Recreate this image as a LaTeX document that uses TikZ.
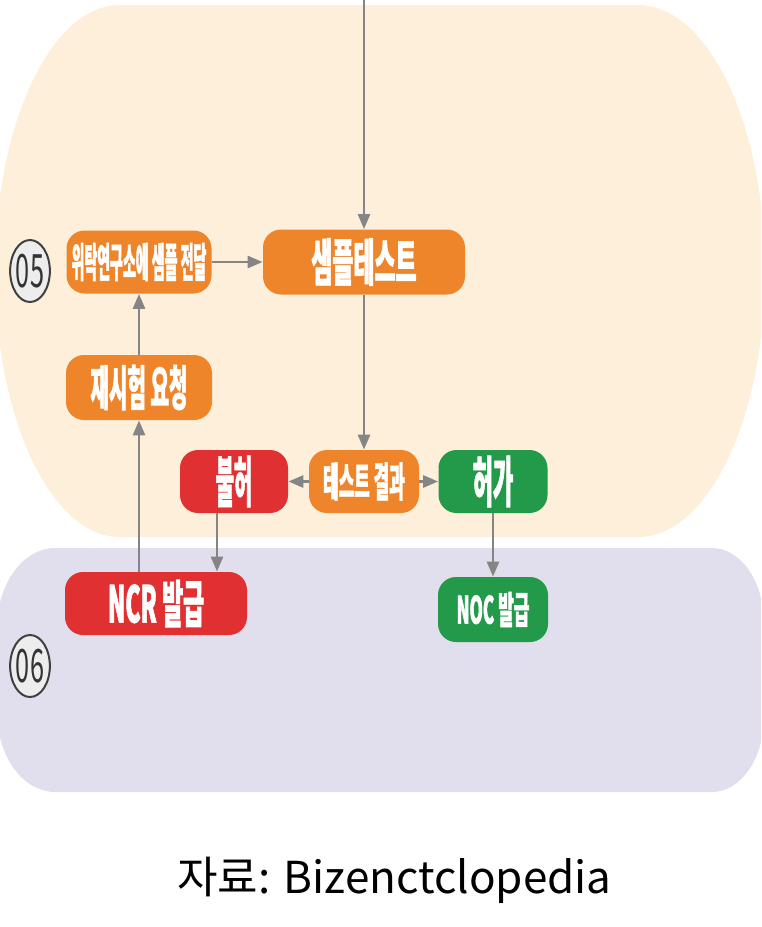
\documentclass[tikz,border=0pt]{standalone}
\usepackage{graphicx}
\usepackage{fontspec}
\setmainfont{Noto Sans CJK KR}
\newfontfamily\boxfont[FakeStretch=0.45,BoldFeatures={FakeBold=1.2}]{Noto Sans CJK KR}
\newfontfamily\numfont[FakeStretch=0.55]{Noto Sans CJK KR}
\usetikzlibrary{arrows.meta,shapes.geometric}

\definecolor{peach}{HTML}{FDEFD9}
\definecolor{lavender}{HTML}{E1DFEE}
\definecolor{boxorange}{HTML}{EE852A}
\definecolor{boxred}{HTML}{E03032}
\definecolor{boxgreen}{HTML}{229A4A}
\definecolor{arrowgray}{HTML}{858585}
\newcommand{\sz}[1]{\fontsize{#1}{#1}\selectfont}

\tikzset{
  stage/.style={rounded corners=9pt, inner sep=0pt, minimum height=31.5pt,
    text=white, font=\boxfont\bfseries},
  phase/.style={ellipse, draw=black!75, line width=1pt, fill=black!7,
    minimum width=18pt, minimum height=31pt, inner sep=0pt,
    text=black!80, font=\numfont\sz{23}},
  flow/.style={draw=arrowgray, line width=1.35pt, -{Triangle[length=7.5pt,width=6pt]}}
}

\begin{document}
\begin{tikzpicture}[x=0.5pt,y=-0.5pt]
    \useasboundingbox (0,0) rectangle (761,927);
    \clip (0,0) rectangle (761,927);
    % phase bands
    \fill[peach] (120,5) -- (638,5)
      arc[start angle=-90,end angle=90,x radius=127,y radius=266] -- (120,537)
      arc[start angle=90,end angle=270,x radius=125,y radius=266] -- cycle;
    \fill[lavender] (55,548) -- (712,548)
      arc[start angle=-90,end angle=0,x radius=52,y radius=75] -- (764,717)
      arc[start angle=0,end angle=90,x radius=52,y radius=75] -- (55,792)
      arc[start angle=90,end angle=180,x radius=58,y radius=80] -- (-3,628)
      arc[start angle=180,end angle=270,x radius=58,y radius=80] -- cycle;
    % phase numbers
    \node[phase] (p05) at (30,271) {05};
    \node[phase] (p06) at (30,666) {06};
    % steps
    \node[stage,fill=boxorange,minimum width=72.5pt] (deliver) at (139,262)
      {\sz{20.4}\scalebox{0.76}[1]{위탁연구소에 샘플 전달}};
    \node[stage,fill=boxorange,minimum width=101pt,minimum height=32.5pt] (test) at (364,262)
      {\sz{25.4}샘플테스트};
    \node[stage,fill=boxorange,minimum width=73pt,minimum height=32.5pt] (retest) at (139,387.5)
      {\sz{24}\scalebox{0.93}[1]{재시험 요청}};
    \node[stage,fill=boxorange,minimum width=55pt] (result) at (364,481.5)
      {\sz{20.4}\scalebox{0.92}[1]{테스트 결과}};
    \node[stage,fill=boxred,minimum width=54pt] (reject) at (234,481.5)
      {\sz{27.5}\scalebox{0.8}[1]{불허}};
    \node[stage,fill=boxgreen,minimum width=54.5pt] (permit) at (493,481.5)
      {\sz{27.5}\scalebox{0.89}[1]{허가}};
    \node[stage,fill=boxred,minimum width=91pt] (ncr) at (156,603.5)
      {\sz{25.4}NCR 발급};
    \node[stage,fill=boxgreen,minimum width=55pt,minimum height=32.5pt] (noc) at (493,609.5)
      {\sz{18.9}NOC 발급};
    % flow
    \coordinate (entry) at (364,0);
    \draw[flow] (entry) -- (test);
    \draw[flow] (deliver) -- (test);
    \draw[flow] (test) -- (result);
    \draw[flow] (result) -- (reject);
    \draw[flow] (result) -- (permit);
    \draw[flow] ([xshift=-8.5pt]reject.south) -- ([xshift=-8.5pt]reject.south |- ncr.north);
    \draw[flow] (permit) -- (noc);
    \draw[flow] (ncr.north -| retest.south) -- (retest.south);
    \draw[flow] (retest) -- (deliver);
    % source
    \node[anchor=base,font=\sz{22}] (source) at (394.5,893) {자료: Bizenctclopedia};
\end{tikzpicture}
\end{document}
